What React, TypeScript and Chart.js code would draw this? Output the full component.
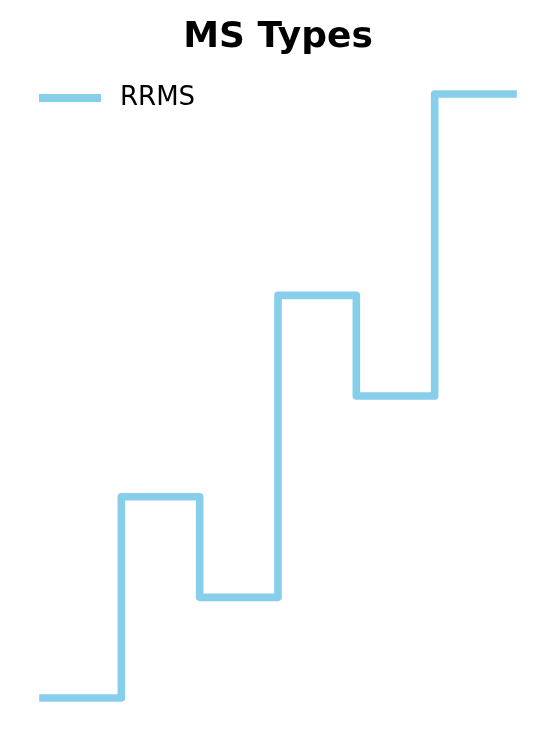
import React, { useEffect, useRef } from "react";
import { Chart, registerables } from "chart.js";

Chart.register(...registerables);

const xPositions: number[] = [0, 1, 2, 3, 4, 5, 6];
const rrmsValues: number[] = [0, 2, 1, 4, 3, 6, 6];
const seriesName = "RRMS";
const chartTitle = "MS Types";
const lineColor = "#87CEEB";

export default function App() {
  const canvasRef = useRef<HTMLCanvasElement | null>(null);

  useEffect(() => {
    document.body.style.margin = "0";
    const canvas = canvasRef.current;
    if (!canvas) return;

    // legend sample: a thick line segment with a gap to the label
    const sample = document.createElement("canvas");
    sample.width = 68;
    sample.height = 8;
    const sctx = sample.getContext("2d");
    if (sctx) {
      sctx.fillStyle = lineColor;
      sctx.fillRect(0, 0, 62, 8);
    }

    const points = xPositions.map((x, i) => ({ x, y: rrmsValues[i] }));

    const chart = new Chart(canvas, {
      type: "line",
      data: {
        datasets: [
          {
            label: seriesName,
            data: points,
            stepped: "before",
            borderColor: lineColor,
            backgroundColor: lineColor,
            borderWidth: 7.6,
            borderJoinStyle: "round",
            borderCapStyle: "square",
            pointRadius: 0,
            pointHoverRadius: 0,
            fill: false,
            clip: false,
          },
        ],
      },
      options: {
        animation: false,
        responsive: true,
        maintainAspectRatio: false,
        layout: { padding: { left: 39, right: 39, top: 0, bottom: 49 } },
        scales: {
          x: { type: "linear", display: false, min: -0.051, max: 6.051 },
          y: { display: false, min: 0, max: 6.09 },
        },
        plugins: {
          title: {
            display: true,
            text: chartTitle,
            color: "#000",
            font: { family: "DejaVu Sans", size: 36, weight: "bold" },
            padding: { top: 16, bottom: 25.8 },
          },
          legend: {
            display: true,
            position: "chartArea",
            align: "start",
            title: {
              display: true,
              text: "",
              font: { size: 10, lineHeight: 1.2 },
              padding: { top: 73, bottom: 0 },
            },
            labels: {
              color: "#000",
              font: { family: "DejaVu Sans", size: 26 },
              usePointStyle: true,
              pointStyleWidth: 68,
              boxHeight: 8,
              padding: 0,
              generateLabels: (c: any) =>
                c.data.datasets.map((ds: any, i: number) => ({
                  text: ds.label,
                  fillStyle: lineColor,
                  strokeStyle: lineColor,
                  fontColor: "#000",
                  lineWidth: 0,
                  pointStyle: sample,
                  hidden: false,
                  datasetIndex: i,
                })),
            },
          },
          tooltip: { enabled: false },
        },
      },
    });
    return () => chart.destroy();
  }, []);

  return (
    <div style={{ width: 556, height: 747, position: "relative" }}>
      <canvas ref={canvasRef} />
    </div>
  );
}
